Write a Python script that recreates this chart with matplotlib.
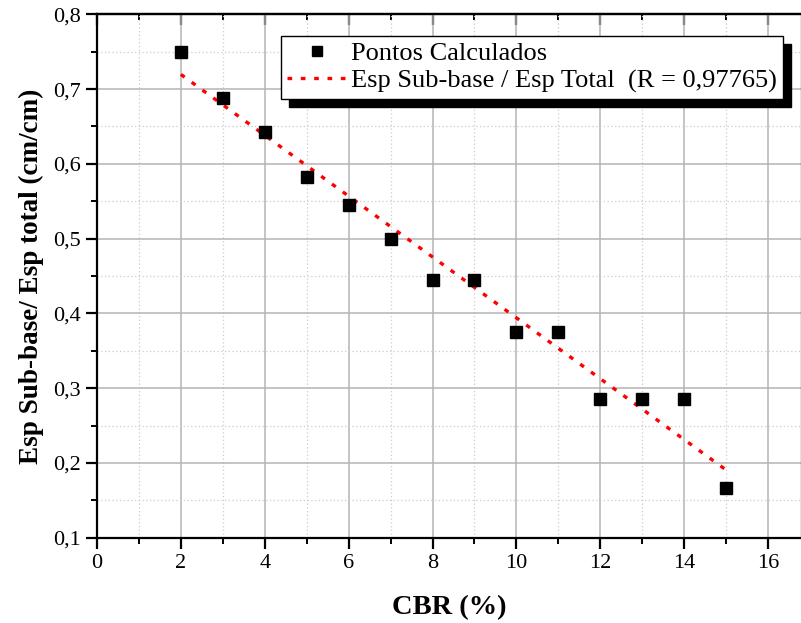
import numpy as np
import matplotlib.pyplot as plt
from matplotlib.ticker import MultipleLocator, FuncFormatter

plt.rcParams['font.family'] = ['Liberation Serif', 'DejaVu Serif']

cbr = [2, 3, 4, 5, 6, 7, 8, 9, 10, 11, 12, 13, 14, 15]
razao = [0.750, 0.6875, 0.643, 0.583, 0.545, 0.500, 0.444, 0.444,
         0.375, 0.375, 0.286, 0.286, 0.286, 0.1667]

# ajuste linear
a, b = np.polyfit(cbr, razao, 1)
xfit = np.array([cbr[0], cbr[-1]])
yfit = a * xfit + b

W, H = 801, 623
fig = plt.figure(figsize=(W / 100, H / 100), dpi=100)
ax = fig.add_axes([97 / W, 1 - 537.7 / H, (802 - 97) / W, (537.7 - 14.3) / H])

ax.plot(xfit, yfit, color='red', lw=2.4, linestyle=(0, (1.4, 2.6)),
        label='Esp Sub-base / Esp Total  (R = 0,97765)', zorder=3)
ax.plot(cbr, razao, 's', color='black', ms=9, label='Pontos Calculados', zorder=4)

ax.set_xlim(0, 16.81)
ax.set_ylim(0.1, 0.8)
ax.xaxis.set_major_locator(MultipleLocator(2))
ax.xaxis.set_minor_locator(MultipleLocator(1))
ax.yaxis.set_major_locator(MultipleLocator(0.1))
ax.yaxis.set_minor_locator(MultipleLocator(0.05))
ax.yaxis.set_major_formatter(FuncFormatter(lambda v, p: f'{v:.1f}'.replace('.', ',')))

ax.grid(which='major', color='#b4b4b4', lw=1.1, ls='-')
ax.grid(which='minor', color='#cccccc', lw=0.9, ls=(0, (1, 2)))
ax.set_axisbelow(True)

for s in ax.spines.values():
    s.set_linewidth(1.6)
ax.tick_params(which='major', direction='out', length=8, width=1.6, labelsize=16,
               top=False, right=False)
ax.tick_params(which='minor', direction='out', length=4.5, width=1.4,
               top=False, right=False)

# ticks internos no topo
sec = ax.secondary_xaxis('top')
sec.xaxis.set_major_locator(MultipleLocator(2))
sec.xaxis.set_minor_locator(MultipleLocator(1))
sec.tick_params(which='major', direction='in', length=8, width=1.6, labelsize=0)
sec.tick_params(which='minor', direction='in', length=4.5, width=1.4)
sec.xaxis.set_major_formatter(FuncFormatter(lambda v, p: ''))
sec.spines['top'].set_linewidth(1.6)

ax.set_xlabel('CBR (%)', fontsize=20.5, fontweight='bold', labelpad=16)
ax.set_ylabel('Esp Sub-base/ Esp total (cm/cm)', fontsize=19.5, fontweight='bold',
              labelpad=7)

h, l = ax.get_legend_handles_labels()
leg = ax.legend(h[::-1], l[::-1], loc='upper left',
                bbox_to_anchor=(281 / W, 1 - 35.7 / H), bbox_transform=fig.transFigure,
                borderaxespad=0, fontsize=19, fancybox=False, framealpha=1,
                edgecolor='black', handlelength=2.3, handletextpad=0.15,
                borderpad=0.22, labelspacing=0.15, markerscale=0.8,
                shadow={'ox': 6, 'oy': -6, 'color': 'black', 'alpha': 1})
leg.get_frame().set_linewidth(1.0)
leg.set_zorder(10)

fig.savefig('out.png', dpi=100)
